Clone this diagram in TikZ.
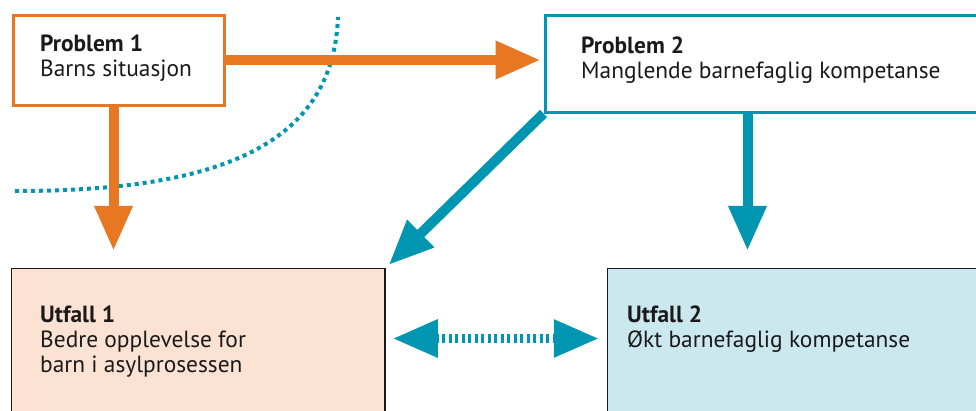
\documentclass[tikz,border=0pt]{standalone}
\usepackage{fontspec}
\setmainfont{PT Sans}
\usepackage{tikz}
\usetikzlibrary{arrows.meta, positioning}
\definecolor{oransje}{HTML}{E87722}
\definecolor{petrol}{HTML}{0096B2}
\definecolor{fersken}{HTML}{FBE2D3}
\definecolor{lysbla}{HTML}{CCE8EF}
\definecolor{tekst}{HTML}{1A1A1A}

\begin{document}
\begin{tikzpicture}[
			x=1pt, y=-1pt,
			% Bokser
			problemboks/.style={draw=#1, line width=3pt, fill=white, anchor=north west, inner sep=0pt},
			utfallboks/.style={draw=tekst, line width=1.5pt, fill=#1, anchor=north west, inner sep=0pt},
			boksTekst/.style={anchor=north west, align=left, inner sep=0pt, text=tekst, font=\fontsize{23.4}{25}\selectfont},
			% Piler
			pil/.style={#1, line width=10pt, -{Triangle[length=45pt, width=36pt]}},
			prikket/.style={petrol, line width=4pt, dash pattern=on 4pt off 4pt},
			]

			\useasboundingbox (0,0) rectangle (976,410);

			\node[problemboks=oransje, minimum width=211pt, minimum height=90pt] (P1) at (11.5,13.5) {};
			\node[problemboks=petrol, minimum width=450pt, minimum height=97pt] (P2) at (543.5,13.5) {};
			\node[utfallboks=fersken, minimum width=373.5pt, minimum height=160pt] (U1) at (10.75,267.75) {};
			\node[utfallboks=lysbla, minimum width=400pt, minimum height=160pt] (U2) at (606.75,267.75) {};

			\node[boksTekst] (tekstP1) at (40,35) {\textbf{Problem 1}\\Barns situasjon};
			\node[boksTekst] (tekstP2) at (581,37) {\textbf{Problem 2}\\Manglende barnefaglig kompetanse};
			\node[boksTekst] (tekstU1) at (40,306) {\textbf{Utfall 1}\\Bedre opplevelse for\\barn i asylprosessen};
			\node[boksTekst] (tekstU2) at (627,306) {\textbf{Utfall 2}\\Økt barnefaglig kompetanse};

			% skillelinje
			\draw[prikket] (15,191) .. controls (210,191) and (333,150) .. (338,17);

			\draw[pil=oransje, shorten >=3pt] (P1.east |- 0,60) -- (P2.west |- 0,60);
			\draw[pil=oransje, shorten >=17pt] ([xshift=-5pt]P1.south) -- ([xshift=-5pt]P1.south |- U1.north);
			\draw[pil=petrol, shorten >=17pt] ([xshift=-22.5pt]P2.south) -- ([xshift=-22.5pt]P2.south |- U2.north);
			\draw[pil=petrol, shorten >=4pt] (P2.south west) -- (U1.north east);
			\draw[petrol, line width=9pt, dash pattern=on 3pt off 3.5pt, {Triangle[length=45pt, width=36pt]}-{Triangle[length=45pt, width=36pt]}, shorten <=7pt, shorten >=8pt] ([yshift=10pt]U1.east) -- ([yshift=10pt]U1.east -| U2.west);
		\end{tikzpicture}
\end{document}
